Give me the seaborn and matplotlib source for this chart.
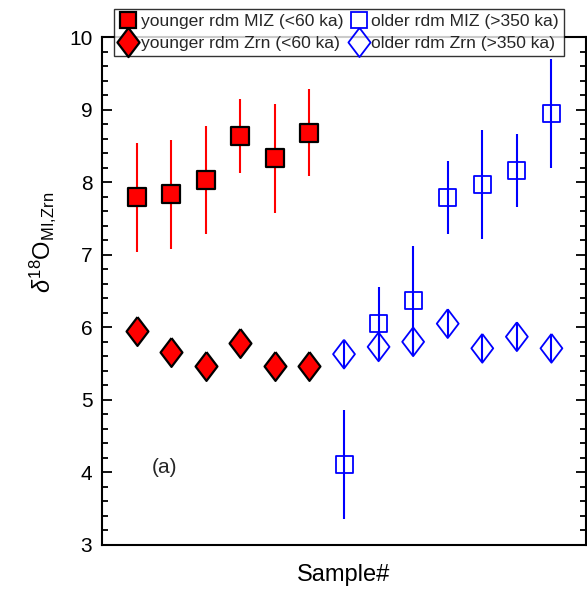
import numpy as np
import pandas as pd
import matplotlib
matplotlib.use("Agg")
import matplotlib.pyplot as plt
import seaborn as sns
from matplotlib.lines import Line2D

# data
young_x = [1, 2, 3, 4, 5, 6]
young_miz = [7.79, 7.83, 8.03, 8.64, 8.33, 8.68]
young_miz_err = [0.75, 0.75, 0.75, 0.51, 0.75, 0.60]
young_zrn = [5.95, 5.66, 5.46, 5.79, 5.46, 5.46]
young_zrn_err = [0.19, 0.19, 0.19, 0.19, 0.19, 0.19]

old_x = [7, 8, 9, 10, 11, 12, 13]
old_miz = [4.11, 6.05, 6.37, 7.79, 7.97, 8.16, 8.94]
old_miz_err = [0.75, 0.50, 0.75, 0.50, 0.75, 0.50, 0.75]
old_zrn = [5.63, 5.73, 5.80, 6.05, 5.71, 5.87, 5.71]
old_zrn_err = [0.19, 0.19, 0.19, 0.19, 0.19, 0.19, 0.19]

labels = ["younger rdm MIZ (<60 ka)", "younger rdm Zrn (<60 ka)",
          "older rdm MIZ (>350 ka)", "older rdm Zrn (>350 ka)"]

sns.set_theme(style="ticks")
plt.rcParams["font.family"] = ["Liberation Sans", "DejaVu Sans"]
plt.rcParams["mathtext.fontset"] = "custom"
plt.rcParams["mathtext.rm"] = "Liberation Sans"
plt.rcParams["mathtext.it"] = "Liberation Sans:italic"

diamond = [(0, 1), (0.76, 0), (0, -1), (-0.76, 0), (0, 1)]
RED = "#ff0000"
BLUE = "#0000ff"

fig = plt.figure(figsize=(5.87, 5.92), dpi=100)
ax = fig.add_axes([0.1738, 0.0794, 0.8245, 0.8581])

# error bars
ax.errorbar(young_x, young_miz, yerr=young_miz_err, fmt="none", ecolor=RED, elinewidth=1.5, zorder=1)
ax.errorbar(young_x, young_zrn, yerr=young_zrn_err, fmt="none", ecolor=RED, elinewidth=1.5, zorder=1)
ax.errorbar(old_x, old_miz, yerr=old_miz_err, fmt="none", ecolor=BLUE, elinewidth=1.5, zorder=1)
ax.errorbar(old_x, old_zrn, yerr=old_zrn_err, fmt="none", ecolor=BLUE, elinewidth=1.5, zorder=1)

# markers
sns.scatterplot(x=young_x, y=young_miz, marker="s", s=150, color=RED,
                edgecolor="black", linewidth=1.6, ax=ax, zorder=3)
sns.scatterplot(x=young_x, y=young_zrn, marker=diamond, s=430, color=RED,
                edgecolor="black", linewidth=1.6, ax=ax, zorder=3)
sns.scatterplot(x=old_x, y=old_miz, marker="s", s=150, facecolor="none",
                edgecolor=BLUE, linewidth=1.3, ax=ax, zorder=3)
sns.scatterplot(x=old_x, y=old_zrn, marker=diamond, s=430, facecolor="none",
                edgecolor=BLUE, linewidth=1.3, ax=ax, zorder=3)

ax.set_xlim(0, 14)
ax.set_ylim(3, 10)
ax.set_yticks(np.arange(3, 11, 1))
ax.set_yticks(np.arange(3, 10.01, 0.2), minor=True)
ax.set_xticks([])
ax.tick_params(axis="y", which="both", direction="in", left=True, right=True,
               labelsize=15, width=1.3, color="black", labelcolor="black", pad=7)
ax.tick_params(axis="y", which="major", length=7)
ax.tick_params(axis="y", which="minor", length=4)
for sp in ax.spines.values():
    sp.set_visible(True)
    sp.set_linewidth(1.5)
    sp.set_color("black")

ax.set_xlabel("Sample#", fontsize=17, labelpad=14, color="black")
ax.set_ylabel(r"$\delta^{18}$O$_{\mathrm{MI{,}Zrn}}$", fontsize=17, color="black")
ax.yaxis.set_label_coords(-0.09, 0.596)
ax.text(1.45, 4.07, "(a)", fontsize=15, ha="left", va="center")

handles = [
    Line2D([], [], ls="none", marker="s", markersize=12, markerfacecolor=RED,
           markeredgecolor="black", markeredgewidth=1.6),
    Line2D([], [], ls="none", marker=diamond, markersize=21, markerfacecolor=RED,
           markeredgecolor="black", markeredgewidth=1.6),
    Line2D([], [], ls="none", marker="s", markersize=12, markerfacecolor="none",
           markeredgecolor=BLUE, markeredgewidth=1.3),
    Line2D([], [], ls="none", marker=diamond, markersize=21, markerfacecolor="none",
           markeredgecolor=BLUE, markeredgewidth=1.3),
]
leg = fig.legend(handles, labels, ncol=2, loc="center", bbox_to_anchor=(0.578, 0.945),
                 fontsize=12.6, frameon=True, fancybox=False, handlelength=1.0,
                 handletextpad=0.2, columnspacing=0.4, labelspacing=0.35,
                 borderpad=0.3, borderaxespad=0)
leg.get_frame().set_edgecolor("black")
leg.get_frame().set_linewidth(1.0)
leg.set_zorder(5)

fig.savefig("out.png", dpi=100)
